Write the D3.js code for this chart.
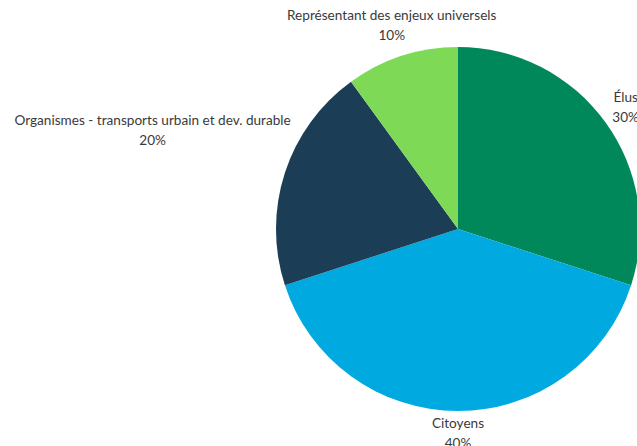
<!DOCTYPE html>
<html>
<head>
<meta charset="utf-8">
<title>Répartition</title>
<script src="https://cdn.jsdelivr.net/npm/d3@7"></script>
<style>
  html, body { margin: 0; padding: 0; background: #fff; }
</style>
</head>
<body>
<div id="chart"></div>
<script>
// data
const categories = ["Élus", "Citoyens", "Organismes - transports urbain et dev. durable", "Représentant des enjeux universels"];
const values = [30, 40, 20, 10];
const colors = ["#00875a", "#00a9e0", "#1c3d56", "#7ed957"];

const width = 637, height = 446;
const cx = 458, cy = 229, radius = 182;
const labelGap = 4;

const svg = d3.select("#chart").append("svg")
    .attr("width", width)
    .attr("height", height);

const data = categories.map((c, i) => ({name: c, value: values[i], color: colors[i]}));
const total = d3.sum(values);

const pie = d3.pie().sort(null).value(d => d.value);
const arc = d3.arc().innerRadius(0).outerRadius(radius);

const g = svg.append("g").attr("transform", `translate(${cx},${cy})`);

const arcs = pie(data);

g.selectAll("path.slice")
  .data(arcs)
  .join("path")
    .attr("class", "slice")
    .attr("fill", d => d.data.color)
    .attr("d", arc);

// labels: two lines, pushed out along the mid-angle ray until the box clears the pie
const labels = g.selectAll("text.lbl")
  .data(arcs)
  .join("text")
    .attr("class", "lbl")
    .attr("text-anchor", "middle")
    .style("font-family", "Lato, 'Noto Sans', sans-serif")
    .style("font-size", "13.6px")
    .attr("fill", "#3a3a3a");

labels.append("tspan").attr("x", 0).attr("dy", "-0.35em").text(d => d.data.name);
labels.append("tspan").attr("x", 0).attr("dy", "1.45em").text(d => Math.round(d.data.value / total * 100) + "%");

labels.each(function(d) {
  const bb = this.getBBox();
  const a = (d.startAngle + d.endAngle) / 2;
  const ux = Math.sin(a), uy = -Math.cos(a);
  // distance from pie centre to nearest point of box whose centre is at t along the ray
  const near = t => {
    const bx = t * ux + bb.x, by = t * uy + bb.y;
    const nx = Math.max(bx, Math.min(0, bx + bb.width));
    const ny = Math.max(by, Math.min(0, by + bb.height));
    return Math.hypot(nx, ny);
  };
  let lo = 0, hi = 1000;
  for (let k = 0; k < 50; k++) {
    const mid = (lo + hi) / 2;
    if (near(mid) < radius + labelGap) lo = mid; else hi = mid;
  }
  d3.select(this).attr("transform", `translate(${hi * ux},${hi * uy})`);
});
</script>
</body>
</html>
